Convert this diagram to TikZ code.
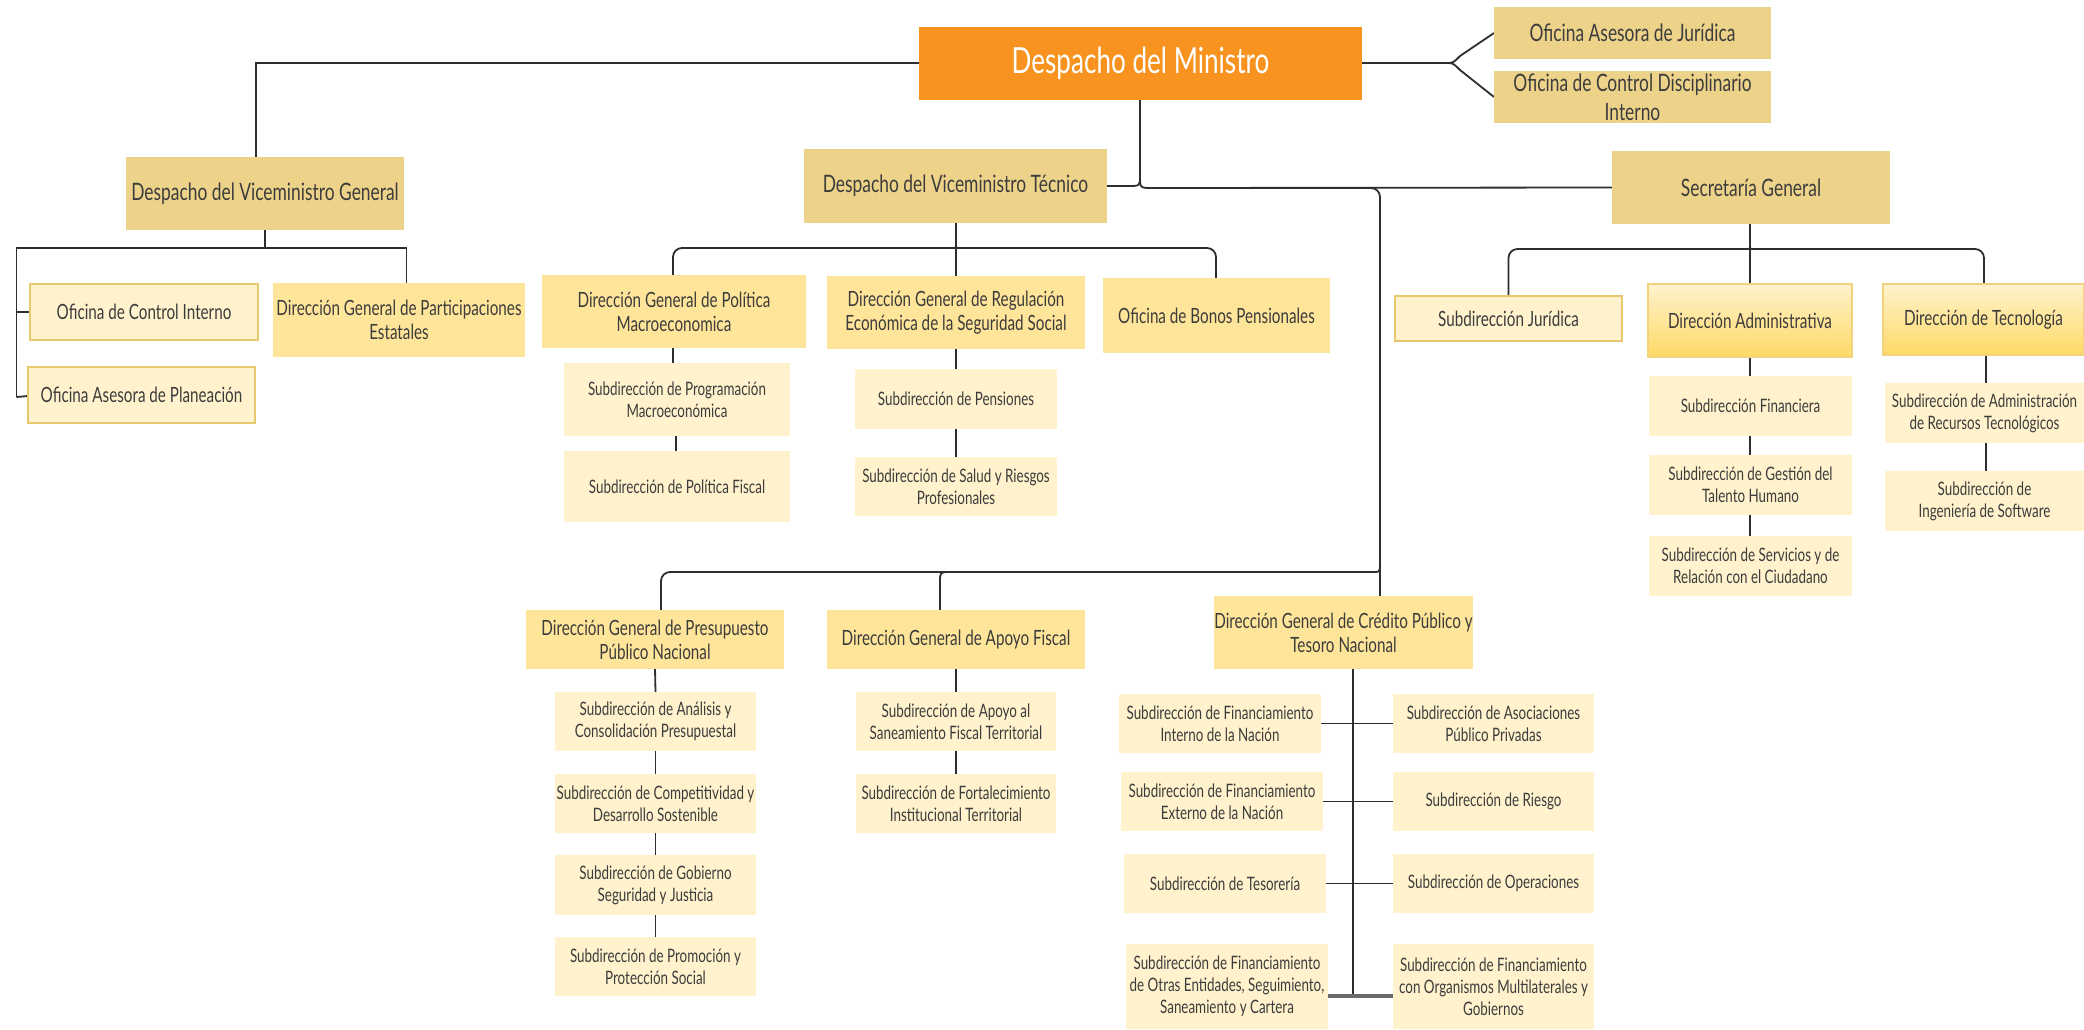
\documentclass[tikz,border=0pt]{standalone}
\usepackage{fontspec}
\setmainfont{Lato}[FakeStretch=0.725]
\usetikzlibrary{backgrounds}

\definecolor{ministro}{HTML}{F7931E}
\definecolor{tan}{HTML}{EDD38A}
\definecolor{gold}{HTML}{FFE599}
\definecolor{cream}{HTML}{FFF2CC}
\definecolor{goldbright}{HTML}{FFD966}
\definecolor{rim}{HTML}{E8C86C}
\definecolor{rimlight}{HTML}{F2D27E}
\definecolor{ink}{HTML}{3C3C3C}
\definecolor{wire}{HTML}{2E2E2E}
\definecolor{wiregray}{HTML}{6A6A6A}

\tikzset{
  org/.style={rectangle, inner sep=0pt, outer sep=0pt, align=center, text=ink},
  lvlone/.style={org, fill=ministro, text=white, font=\fontsize{36}{40}\selectfont},
  lvltwo/.style={org, fill=tan, font=\fontsize{24}{29}\selectfont},
  dgen/.style={org, fill=gold, font=\fontsize{21}{24}\selectfont},
  subd/.style={org, fill=cream, font=\fontsize{18.5}{22}\selectfont},
  office/.style={org, fill=cream, draw=rim, line width=1.5pt, font=\fontsize{21}{24}\selectfont},
  graded/.style={org, top color=cream, bottom color=goldbright, draw=rimlight, line width=1.5pt, font=\fontsize{21}{24}\selectfont},
  link/.style={draw=wire, line width=1.8pt},
  thicklink/.style={draw=wiregray, line width=3.5pt},
}

% box from its corners: name, x1, y1, x2, y2, style, text
\newcommand\orgbox[7]{%
  \node[#6, minimum width=#4pt-#2pt, minimum height=#5pt-#3pt] (#1)
    at ({(#2+#4)/2},{(#3+#5)/2}) {#7};}

\begin{document}
\begin{tikzpicture}[x=1pt, y=-1pt]
\useasboundingbox (0,0) rectangle (2084,1029);

% top level
\orgbox{min}{919}{27}{1362}{100}{lvlone}{Despacho del Ministro}
\orgbox{oaj}{1494}{7}{1771}{59}{lvltwo}{Oficina Asesora de Jurídica}
\orgbox{ocd}{1494}{71}{1771}{123}{lvltwo}{Oficina de Control Disciplinario\\Interno}

% second level
\orgbox{vg}{126}{157}{404}{230}{lvltwo}{Despacho del Viceministro General}
\orgbox{vt}{804}{149}{1107}{223}{lvltwo}{Despacho del Viceministro Técnico}
\orgbox{sg}{1612}{151}{1890}{224}{lvltwo}{Secretaría General}

% Viceministro General
\orgbox{oci}{30}{284}{258}{340}{office}{Oficina de Control Interno}
\orgbox{oap}{28}{367}{255}{423}{office}{Oficina Asesora de Planeación}
\orgbox{dgpe}{273}{283}{525}{357}{dgen}{Dirección General de Participaciones\\Estatales}

% Viceministro Técnico
\orgbox{dgpm}{542}{275}{806}{348}{dgen}{Dirección General de Política\\Macroeconomica}
\orgbox{spm}{564}{363}{790}{436}{subd}{Subdirección de Programación\\Macroeconómica}
\orgbox{spf}{564}{451}{790}{522}{subd}{Subdirección de Política Fiscal}
\orgbox{dgr}{827}{276}{1085}{349}{dgen}{Dirección General de Regulación\\Económica de la Seguridad Social}
\orgbox{spen}{855}{369}{1057}{429}{subd}{Subdirección de Pensiones}
\orgbox{ssal}{855}{457}{1057}{516}{subd}{Subdirección de Salud y Riesgos\\Profesionales}
\orgbox{bonos}{1103}{278}{1330}{353}{dgen}{Oficina de Bonos Pensionales}

% Secretaría General
\orgbox{sjur}{1395}{296}{1622}{341}{office}{Subdirección Jurídica}
\orgbox{dadm}{1648}{284}{1852}{357}{graded}{Dirección Administrativa}
\orgbox{dtec}{1883}{284}{2084}{355}{graded}{Dirección de Tecnología}
\orgbox{sfin}{1649}{376}{1852}{436}{subd}{Subdirección Financiera}
\orgbox{sgth}{1649}{455}{1852}{515}{subd}{Subdirección de Gestión del\\Talento Humano}
\orgbox{sserv}{1649}{536}{1852}{596}{subd}{Subdirección de Servicios y de\\Relación con el Ciudadano}
\orgbox{sart}{1885}{383}{2084}{443}{subd}{Subdirección de Administración\\de Recursos Tecnológicos}
\orgbox{sis}{1885}{471}{2084}{531}{subd}{Subdirección de\\Ingeniería de Software}

% lower directorates
\orgbox{dgpp}{526}{610}{784}{669}{dgen}{Dirección General de Presupuesto\\Público Nacional}
\orgbox{dgaf}{827}{610}{1085}{669}{dgen}{Dirección General de Apoyo Fiscal}
\orgbox{dgcp}{1215}{596}{1472}{669}{dgen}{Dirección General de Crédito Público y\\Tesoro Nacional}

\orgbox{sacp}{555}{692}{756}{751}{subd}{Subdirección de Análisis y\\Consolidación Presupuestal}
\orgbox{scds}{555}{774}{756}{833}{subd}{Subdirección de Competitividad y\\Desarrollo Sostenible}
\orgbox{sgsj}{555}{855}{756}{915}{subd}{Subdirección de Gobierno\\Seguridad y Justicia}
\orgbox{spps}{555}{937}{756}{996}{subd}{Subdirección de Promoción y\\Protección Social}

\orgbox{sasf}{856}{692}{1056}{751}{subd}{Subdirección de Apoyo al\\Saneamiento Fiscal Territorial}
\orgbox{sfit}{856}{774}{1056}{833}{subd}{Subdirección de Fortalecimiento\\Institucional Territorial}

\orgbox{sfii}{1119}{694}{1321}{753}{subd}{Subdirección de Financiamiento\\Interno de la Nación}
\orgbox{sapp}{1393}{694}{1594}{753}{subd}{Subdirección de Asociaciones\\Público Privadas}
\orgbox{sfie}{1121}{772}{1323}{831}{subd}{Subdirección de Financiamiento\\Externo de la Nación}
\orgbox{srie}{1393}{772}{1594}{831}{subd}{Subdirección de Riesgo}
\orgbox{stes}{1124}{854}{1326}{913}{subd}{Subdirección de Tesorería}
\orgbox{sope}{1393}{854}{1594}{913}{subd}{Subdirección de Operaciones}
\orgbox{sfoe}{1126}{944}{1328}{1029}{subd}{Subdirección de Financiamiento\\de Otras Entidades, Seguimiento,\\Saneamiento y Cartera}
\orgbox{sfom}{1393}{944}{1594}{1029}{subd}{Subdirección de Financiamiento\\con Organismos Multilaterales y\\Gobiernos}

% junction points
\coordinate (jvg) at (265,248);
\coordinate (jvt) at (956,240);
\coordinate (jsg) at (1750,240);
\coordinate (jmin) at (1140,176);
\coordinate (jfork) at (1446,63);
\coordinate (jlow) at (1380,558);
\coordinate (crtop) at (1353,669);
\coordinate (crbot) at (1353,994);
\coordinate (rowfour) at (1353,996);

\begin{scope}[on background layer]
\fill[white] (0,0) rectangle (2084,1029);

% Ministro to Viceministro General
\draw[link] (min.west |- 0,63) -- (256,63) -- (vg.north -| 256,0);

% Ministro to advisory offices
\draw[link] (min.east |- jfork) -- (jfork);
\draw[link] (jfork) .. controls (1453,63) .. (1460,56) -- (oaj.west);
\draw[link] (jfork) .. controls (1453,63) .. (1460,70) -- (ocd.west);

% Ministro down to Viceministro Técnico and Secretaría General
\draw[link] (min.south -| jmin) -- (jmin);
\draw[link] (jmin) .. controls (1140,186) .. (1128,186) -- (vt.east);
\draw[link] (jmin) .. controls (1140,188) .. (1152,188) -- (sg.west);
\draw[link, rounded corners=9pt] (1152,188) -- (1380,188) -- (dgcp.north -| 1380,0);

% lower directorates branch
\draw[link, rounded corners=9pt] (jlow) .. controls (1380,572) .. (1366,572) -- (661,572) -- (dgpp.north -| 661,0);
\draw[link] (dgaf.north -| 940,0) -- (940,582) .. controls (940,572) .. (950,572);

% Viceministro General
\draw[link] (vg.south -| jvg) -- (jvg);
\draw[link] (16.5,397) -- (16.5,248) -- (406.5,248) -- (dgpe.north -| 406.5,0);
\draw[link] (16.5,312) -- (oci.west |- 0,312);
\draw[link] (16.5,397) -- (oap.west |- 0,396);

% Viceministro Técnico
\draw[link] (vt.south -| jvt) -- (dgr.north -| jvt);
\draw[link, rounded corners=9pt] (jvt) .. controls (956,248) .. (946,248) -- (673,248) -- (dgpm.north -| 673,0);
\draw[link, rounded corners=9pt] (jvt) .. controls (956,248) .. (966,248) -- (1216,248) -- (bonos.north -| 1216,0);
\draw[link] (dgpm.south -| 673,0) -- (spm.north -| 673,0);
\draw[link] (spm.south -| 676,0) -- (spf.north -| 676,0);
\draw[link] (dgr.south) -- (spen.north);
\draw[link] (spen.south) -- (ssal.north);

% Secretaría General
\draw[link] (sg.south -| jsg) -- (dadm.north -| jsg);
\draw[link, rounded corners=9pt] (jsg) .. controls (1750,249) .. (1740,249) -- (1508.5,249) -- (sjur.north);
\draw[link, rounded corners=9pt] (jsg) .. controls (1750,249) .. (1760,249) -- (1984,249) -- (dtec.north -| 1984,0);
\draw[link] (dadm.south -| jsg) -- (sfin.north -| jsg);
\draw[link] (sfin.south -| jsg) -- (sgth.north -| jsg);
\draw[link] (sgth.south -| jsg) -- (sserv.north -| jsg);
\draw[link] (dtec.south -| 1986,0) -- (sart.north -| 1986,0);
\draw[link] (sart.south -| 1986,0) -- (sis.north -| 1986,0);

% Presupuesto and Apoyo Fiscal columns
\draw[link] (dgpp.south) -- (sacp.north);
\draw[link] (sacp.south) -- (scds.north);
\draw[link] (scds.south) -- (sgsj.north);
\draw[link] (sgsj.south) -- (spps.north);
\draw[link] (dgaf.south) -- (sasf.north);
\draw[link] (sasf.south) -- (sfit.north);

% Crédito Público spine and rows
\draw[link] (crtop) -- (crbot);
\draw[link] (sfii.east) -- (sapp.west);
\draw[link] (sfie.east) -- (srie.west);
\draw[link] (stes.east) -- (sope.west);
\draw[thicklink] (sfoe.east |- rowfour) -- (sfom.west |- rowfour);
\end{scope}
\end{tikzpicture}
\end{document}
